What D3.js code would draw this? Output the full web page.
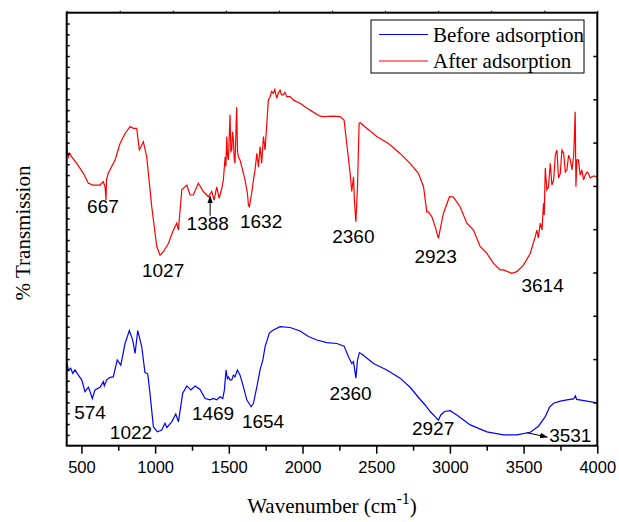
<html>
<head>
<meta charset="utf-8">
<script src="https://d3js.org/d3.v7.min.js"></script>
<style>
    body { margin: 0; background: #fff; }
</style>
</head>
<body>
<div id="chart"></div>
<script>
// FTIR spectra, values: [wavenumber cm-1, % transmission (arbitrary 0-100)]
var afterData = [[400,69.1],[405,68.1],[411,66.7],[420,67.5],[434,66.7],[468,65.2],[513,62.9],[547,60.6],[581,60.2],[626,60.2],[648,61.0],[660,59.8],[667,56.7],[670,61.5],[682,62.9],[728,66.0],[762,69.8],[796,72.1],[830,73.7],[852,73.3],[875,73.3],[893,68.3],[920,70.2],[943,66.7],[977,55.2],[1011,46.0],[1033,44.0],[1056,44.8],[1090,46.7],[1124,49.8],[1147,51.4],[1158,49.8],[1181,59.1],[1215,60.2],[1237,57.9],[1259,57.9],[1293,60.6],[1327,58.7],[1361,57.5],[1384,58.7],[1400,56.7],[1418,59.8],[1434,57.1],[1452,59.4],[1463,61.4],[1475,66.7],[1480,64.5],[1486,71.4],[1491,67.0],[1497,66.0],[1502,70.5],[1508,76.4],[1514,68.0],[1520,68.3],[1525,72.5],[1531,70.6],[1536,66.5],[1542,65.2],[1547,71.0],[1553,78.2],[1559,68.0],[1565,66.7],[1576,66.0],[1588,64.4],[1610,61.4],[1626,58.3],[1633,55.5],[1640,55.2],[1648,57.0],[1655,58.3],[1667,61.4],[1678,63.7],[1690,67.5],[1701,64.4],[1712,69.1],[1723,65.2],[1735,71.4],[1746,68.3],[1768,79.8],[1780,80.6],[1790,81.8],[1802,81.4],[1812,82.3],[1825,80.2],[1836,81.5],[1848,82.1],[1858,81.0],[1870,81.0],[1880,81.6],[1893,80.6],[1916,80.6],[1938,79.8],[1983,79.1],[2051,77.5],[2119,76.1],[2142,76.0],[2210,76.1],[2255,76.0],[2282,75.2],[2300,69.8],[2323,62.9],[2334,58.7],[2346,62.1],[2352,56.7],[2362,51.7],[2373,59.8],[2384,74.5],[2391,74.6],[2436,73.3],[2504,71.4],[2583,69.8],[2662,67.5],[2730,65.2],[2786,62.9],[2821,59.8],[2843,54.0],[2854,54.0],[2877,52.9],[2900,50.6],[2922,47.9],[2956,53.7],[2997,57.5],[3024,57.4],[3069,55.2],[3115,51.4],[3160,49.8],[3205,46.0],[3251,44.4],[3296,42.1],[3341,40.6],[3364,40.6],[3420,39.8],[3454,40.2],[3499,41.7],[3545,44.4],[3579,48.3],[3590,49.8],[3600,48.0],[3613,51.4],[3625,49.8],[3635,56.0],[3640,53.3],[3647,64.1],[3658,59.1],[3669,59.8],[3681,65.2],[3692,60.2],[3704,61.4],[3715,67.1],[3726,68.3],[3737,61.8],[3749,62.9],[3760,68.3],[3772,67.5],[3783,63.2],[3794,63.7],[3805,67.1],[3817,66.0],[3828,63.7],[3840,67.1],[3850,77.1],[3855,59.8],[3862,66.0],[3872,66.0],[3884,62.5],[3895,63.7],[3907,61.4],[3918,62.5],[3930,63.2],[3940,62.9],[3952,61.8],[3963,62.1],[3980,62.3],[4000,62.0]];

var beforeData = [[400,19.4],[411,17.5],[427,17.9],[441,16.7],[456,17.5],[479,16.3],[502,15.2],[524,12.5],[547,13.5],[558,12.5],[574,10.9],[592,12.9],[626,13.5],[649,14.8],[655,13.8],[671,15.2],[694,15.8],[716,15.9],[743,19.8],[767,18.6],[796,23.6],[825,26.6],[848,24.4],[864,21.3],[882,26.6],[909,22.9],[931,16.9],[950,16.6],[965,12.1],[988,4.4],[1015,3.2],[1045,3.6],[1067,5.2],[1079,4.2],[1113,5.5],[1140,7.3],[1158,5.5],[1187,12.1],[1215,13.8],[1242,12.9],[1271,13.8],[1305,13.0],[1339,10.9],[1373,10.6],[1395,10.9],[1418,10.6],[1441,11.3],[1459,10.9],[1470,12.9],[1481,17.5],[1490,15.5],[1497,15.9],[1508,15.2],[1520,15.2],[1531,16.3],[1542,15.9],[1558,17.5],[1576,16.3],[1599,13.6],[1622,10.6],[1651,9.0],[1667,9.8],[1690,13.6],[1712,17.5],[1731,19.8],[1746,22.9],[1775,26.0],[1802,26.7],[1848,27.5],[1916,27.3],[1983,26.5],[2040,25.2],[2097,24.4],[2165,23.8],[2233,23.6],[2282,23.0],[2311,20.6],[2334,19.0],[2346,19.4],[2362,15.6],[2373,19.8],[2386,21.5],[2413,20.9],[2481,19.0],[2572,17.5],[2662,15.6],[2730,13.5],[2793,10.9],[2832,9.4],[2866,7.9],[2900,6.7],[2922,5.9],[2938,7.1],[2963,7.9],[3002,8.1],[3047,7.1],[3138,4.8],[3251,3.2],[3364,2.5],[3454,2.5],[3545,3.1],[3601,4.5],[3647,6.7],[3676,8.9],[3703,9.8],[3749,10.3],[3794,10.6],[3839,10.8],[3852,11.5],[3860,10.7],[3929,10.3],[4000,9.9]];

var seriesNames = ["Before adsorption", "After adsorption"];
var seriesColors = ["#0000ff", "#ff0000"];

var xTicks = [500, 1000, 1500, 2000, 2500, 3000, 3500, 4000];

// peak labels: [text, wavenumber, transmission]
var peakLabels = [
    ["667", 646, 53.8], ["1027", 1054, 39.0], ["1388", 1357, 49.8], ["1632", 1719, 50.2],
    ["2360", 2345, 46.9], ["2923", 2903, 42.1], ["3614", 3629, 35.6],
    ["574", 558, 6.1], ["1022", 836, 1.5], ["1469", 1393, 5.9], ["1654", 1732, 4.0],
    ["2360", 2326, 10.6], ["2927", 2886, 2.5], ["3531", 3817, 0.9]
];
// arrows: [fromWn, fromT, toWn, toT]
var arrows = [[1373, 53.1, 1373, 57.6], [3522, 3.0, 3660, 2.0]];

function draw() {
    var width = 619, height = 522;
    var mLeft = 66.7, mRight = 597.3, mTop = 12.7, mBottom = 445.7;
    var serif = "'Liberation Serif', 'Times New Roman', serif";
    var sans = "'Liberation Sans', Arial, sans-serif";

    var svg = d3.select("#chart").append("svg")
        .attr("width", width)
        .attr("height", height);

    svg.append("defs").append("marker")
        .attr("id", "head")
        .attr("viewBox", "0 0 10 10")
        .attr("refX", 9).attr("refY", 5)
        .attr("markerWidth", 8).attr("markerHeight", 8)
        .attr("markerUnits", "userSpaceOnUse")
        .attr("orient", "auto")
        .append("path")
        .attr("d", "M0,1.5 L10,5 L0,8.5 Z")
        .attr("fill", "#000");

    var xs = d3.scaleLinear().domain([400, 4000]).range([mLeft, mRight]);
    var ys = d3.scaleLinear().domain([0, 100]).range([mBottom, mTop]);

    var line = d3.line()
        .x(function (d) { return xs(d[0]); })
        .y(function (d) { return ys(d[1]); });

    [beforeData, afterData].forEach(function (data, i) {
        svg.append("path")
            .attr("d", line(data))
            .attr("fill", "none")
            .attr("stroke", seriesColors[i])
            .attr("stroke-width", 1.2);
    });

    // peak labels
    svg.selectAll(".peak").data(peakLabels).enter().append("text")
        .attr("class", "peak")
        .attr("x", function (d) { return xs(d[1]); })
        .attr("y", function (d) { return ys(d[2]); })
        .attr("text-anchor", "middle")
        .style("font-family", sans)
        .style("font-size", "19px")
        .text(function (d) { return d[0]; });

    svg.selectAll(".arrow").data(arrows).enter().append("line")
        .attr("class", "arrow")
        .attr("x1", function (d) { return xs(d[0]); })
        .attr("y1", function (d) { return ys(d[1]); })
        .attr("x2", function (d) { return xs(d[2]); })
        .attr("y2", function (d) { return ys(d[3]); })
        .attr("stroke", "#000")
        .attr("stroke-width", 1)
        .attr("marker-end", "url(#head)");

    // X axis: minor and major ticks pointing out
    svg.append("g")
        .attr("transform", "translate(0," + mBottom + ")")
        .call(d3.axisBottom(xs).tickValues(d3.range(750, 4000, 500)).tickSize(5).tickSizeOuter(0).tickFormat(""))
        .call(function (g) {
            g.select(".domain").remove();
            g.selectAll("line").attr("stroke-width", 1.5);
        });
    svg.append("g")
        .attr("transform", "translate(0," + mBottom + ")")
        .call(d3.axisBottom(xs).tickValues(xTicks).tickSize(8).tickSizeOuter(0).tickPadding(8)
            .tickFormat(d3.format("d")))
        .call(function (g) {
            g.select(".domain").remove();
            g.selectAll("line").attr("stroke-width", 1.5);
            g.selectAll("text")
                .attr("fill", "#000")
                .style("font-family", sans)
                .style("font-size", "16.5px");
        });

    // top axis: small ticks
    svg.append("g")
        .attr("transform", "translate(0," + mTop + ")")
        .call(d3.axisTop(d3.scaleLinear().domain([0, 10]).range([mLeft, mRight]))
            .ticks(10).tickSize(2).tickSizeOuter(0).tickFormat(""))
        .call(function (g) { g.select(".domain").remove(); });

    // left axis: minor ticks inward
    svg.append("g")
        .attr("transform", "translate(" + mLeft + ",0)")
        .call(d3.axisRight(ys).tickValues(d3.range(2.5, 100, 2.5)).tickSize(3).tickSizeOuter(0).tickFormat(""))
        .call(function (g) { g.select(".domain").remove(); g.selectAll("line").attr("stroke-width", 1.5); });

    // right axis: major ticks inward
    svg.append("g")
        .attr("transform", "translate(" + mRight + ",0)")
        .call(d3.axisLeft(ys).tickValues(d3.range(10, 100, 10)).tickSize(4).tickSizeOuter(0).tickFormat(""))
        .call(function (g) { g.select(".domain").remove(); g.selectAll("line").attr("stroke-width", 1.5); });

    // frame
    svg.append("rect")
        .attr("x", mLeft).attr("y", mTop)
        .attr("width", mRight - mLeft).attr("height", mBottom - mTop)
        .attr("fill", "none")
        .attr("stroke", "#000")
        .attr("stroke-width", 2);

    // axis titles
    var xTitle = svg.append("text")
        .attr("x", 332)
        .attr("y", 513)
        .attr("text-anchor", "middle")
        .style("font-family", serif)
        .style("font-size", "21px");
    xTitle.append("tspan").text("Wavenumber (cm");
    xTitle.append("tspan").attr("dy", -9).style("font-size", "16px").text("-1");
    xTitle.append("tspan").attr("dy", 9).text(")");

    svg.append("text")
        .attr("transform", "translate(30,233) rotate(-90)")
        .attr("text-anchor", "middle")
        .style("font-family", serif)
        .style("font-size", "21px")
        .text("% Transmission");

    // legend
    var legend = svg.append("g");
    legend.append("rect")
        .attr("x", 371).attr("y", 20)
        .attr("width", 213).attr("height", 53)
        .attr("fill", "#fff")
        .attr("stroke", "#000")
        .attr("stroke-width", 1);
    seriesNames.forEach(function (name, i) {
        var yy = 34.5 + i * 26.5;
        legend.append("line")
            .attr("x1", 379).attr("x2", 428)
            .attr("y1", yy).attr("y2", yy)
            .attr("stroke", seriesColors[i])
            .attr("stroke-width", 1.2);
        legend.append("text")
            .attr("x", 433)
            .attr("y", yy + 7)
            .style("font-family", serif)
            .style("font-size", "21px")
            .text(name);
    });
}
draw();
</script>
</body>
</html>
